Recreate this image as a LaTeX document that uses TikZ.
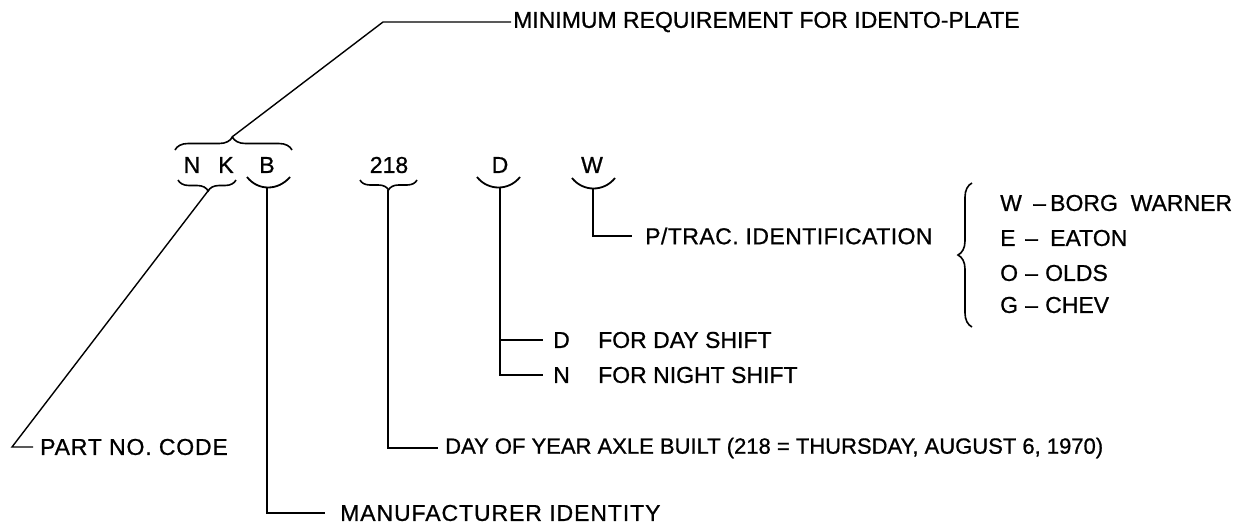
\documentclass[tikz,border=0pt]{standalone}
\usepackage{fontspec}
\setmainfont{Liberation Sans}[RawFeature={embolden=0.8}]
\usetikzlibrary{decorations.pathreplacing}
\begin{document}
\begin{tikzpicture}[x=1pt,y=-1pt,
  lbl/.style={anchor=west,inner sep=0pt,font=\fontsize{23}{25}\selectfont},
  code/.style={inner sep=0pt,font=\fontsize{23}{25}\selectfont},
  lead/.style={line width=1.4pt},
  brc/.style={decorate,line width=1.6pt},
  arcl/.style={line width=1.8pt}]
\useasboundingbox[fill=white] (0,0) rectangle (1236,525);

% code letters
\node[code] (N) at (192,165) {N};
\node[code] (K) at (226,165) {K};
\node[code] (B) at (267,165) {B};
\node[code] (n218) at (389,165) {218};
\node[code] (D) at (500,165) {D};
\node[code] (W) at (592,165) {W};

% labels
\node[lbl] (minreq) at (513,22) {MINIMUM REQUIREMENT FOR IDENTO-PLATE};
\node[lbl] (part) at (40,447) {\addfontfeature{LetterSpace=3.6}PART NO. CODE};
\node[lbl] (manu) at (340,513) {\addfontfeature{LetterSpace=4}MANUFACTURER IDENTITY};
\node[lbl,font=\fontsize{22}{24}\selectfont] (doy) at (445,448) {DAY OF YEAR AXLE BUILT (218 = THURSDAY, AUGUST 6, 1970)};
\node[lbl] (day) at (553,340) {\makebox[45pt][l]{D}FOR DAY SHIFT};
\node[lbl] (night) at (553,375) {\makebox[45pt][l]{N}FOR NIGHT SHIFT};
\node[lbl] (ptrac) at (645,236) {\addfontfeature{LetterSpace=2}P/TRAC. IDENTIFICATION};
\node[lbl] (lw) at (1000,203) {\makebox[33pt][l]{W}\makebox[17pt][l]{--}BORG\ \ WARNER};
\node[lbl] (le) at (1000,238) {\makebox[25pt][l]{E}\makebox[25pt][l]{--}EATON};
\node[lbl] (lo) at (1000,273) {\makebox[25pt][l]{O}\makebox[20pt][l]{--}OLDS};
\node[lbl] (lg) at (1000,305) {\makebox[25pt][l]{G}\makebox[20pt][l]{--}CHEV};

% braces
\draw[brc,decoration={brace,amplitude=13pt,aspect=0.49}] (175,150) -- (292,150);
\coordinate (tipTop) at (232,137);
\draw[brc,decoration={brace,amplitude=11pt,aspect=0.48}] (236,180) -- (178,180);
\coordinate (tipNK) at (208,191);
\draw[arcl] (247,177) .. controls (258,191) and (278,191) .. (290,177);
\coordinate (tipB) at (267,187);
\draw[brc,decoration={brace,amplitude=10pt,aspect=0.5}] (417,180) -- (360,180);
\coordinate (tip218) at (388,190);
\draw[arcl] (477,177) .. controls (488,191) and (509,191) .. (520,177);
\coordinate (tipD) at (500,187);
\draw[arcl] (572,178) .. controls (583,192) and (604,192) .. (615,178);
\coordinate (tipW) at (593,188);
\draw[brc,decoration={brace,amplitude=14pt,aspect=0.5}] (972,327) -- (972,183);

% leaders
\draw[lead] (tipTop) -- (383,22) -- ([xshift=-2pt]minreq.west);
\draw[lead] (tipNK) -- (12,447) -- ([xshift=-7pt]part.west);
\draw[lead] (tipB) |- ([xshift=-15pt]manu.west);
\draw[lead] (tip218) |- ([xshift=-7pt]doy.west);
\draw[lead] (tipD) |- ([xshift=-10pt]night.west);
\draw[lead] (tipD |- day.west) -- ([xshift=-10pt]day.west);
\draw[lead] (tipW) |- ([xshift=-13pt]ptrac.west);
\end{tikzpicture}
\end{document}
